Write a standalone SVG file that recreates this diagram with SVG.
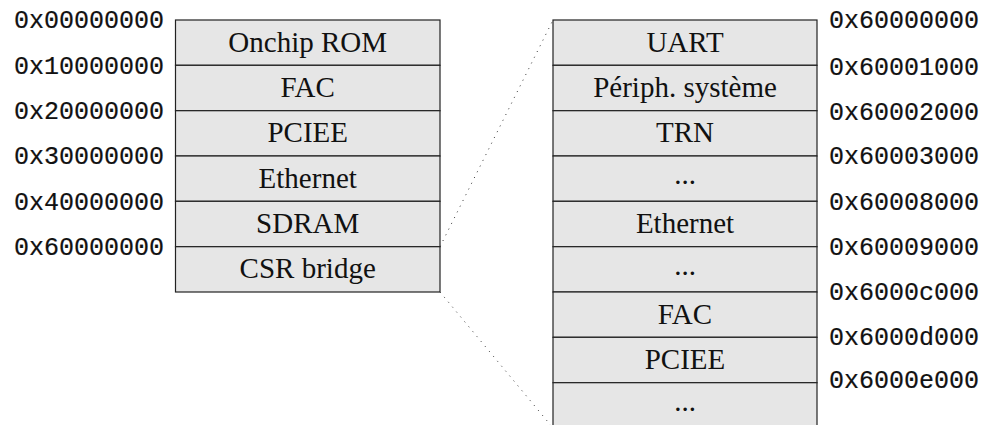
<svg xmlns="http://www.w3.org/2000/svg" width="984" height="425" viewBox="0 0 984 425">
<style>
.cell{fill:#e6e6e6;stroke:#222;stroke-width:1.2}
.lbl{font-family:"Liberation Serif","Times New Roman",serif;font-size:29px;fill:#111;text-anchor:middle}
.addr{font-family:"Liberation Mono","Courier New",monospace;font-size:25px;fill:#111;stroke:#111;stroke-width:0.2}
.l{text-anchor:end}
.dot{fill:none;stroke:#333;stroke-width:1;stroke-dasharray:1 5.4}
</style>
<rect width="984" height="425" fill="#fff"/>
<g id="connectors">
<line class="dot" x1="440" y1="246.7" x2="553" y2="20"/>
<line class="dot" x1="440" y1="292" x2="553" y2="428"/>
</g>
<g id="left-map">
<g id="l-rom"><rect class="cell" x="175.5" y="20" width="264.5" height="45.3"/><text class="lbl" x="307.7" y="51.5">Onchip ROM</text></g>
<g id="l-fac"><rect class="cell" x="175.5" y="65.3" width="264.5" height="45.4"/><text class="lbl" x="307.7" y="97">FAC</text></g>
<g id="l-pciee"><rect class="cell" x="175.5" y="110.7" width="264.5" height="45.3"/><text class="lbl" x="307.7" y="142.3">PCIEE</text></g>
<g id="l-eth"><rect class="cell" x="175.5" y="156" width="264.5" height="45.3"/><text class="lbl" x="307.7" y="187.7">Ethernet</text></g>
<g id="l-sdram"><rect class="cell" x="175.5" y="201.3" width="264.5" height="45.4"/><text class="lbl" x="307.7" y="233">SDRAM</text></g>
<g id="l-csr"><rect class="cell" x="175.5" y="246.7" width="264.5" height="45.3"/><text class="lbl" x="307.7" y="278.3">CSR bridge</text></g>
</g>
<g id="left-addr">
<text class="addr l" x="164" y="28">0x00000000</text>
<text class="addr l" x="164" y="73.5">0x10000000</text>
<text class="addr l" x="164" y="119">0x20000000</text>
<text class="addr l" x="164" y="164">0x30000000</text>
<text class="addr l" x="164" y="209.5">0x40000000</text>
<text class="addr l" x="164" y="255">0x60000000</text>
</g>
<g id="right-map">
<g id="r-uart"><rect class="cell" x="553" y="20" width="264" height="45.3"/><text class="lbl" x="685" y="51.5">UART</text></g>
<g id="r-periph"><rect class="cell" x="553" y="65.3" width="264" height="45.4"/><text class="lbl" x="685" y="97">Périph. système</text></g>
<g id="r-trn"><rect class="cell" x="553" y="110.7" width="264" height="45.3"/><text class="lbl" x="685" y="142.3">TRN</text></g>
<g id="r-gap1"><rect class="cell" x="553" y="156" width="264" height="45.3"/><text class="lbl" x="685" y="184">...</text></g>
<g id="r-eth"><rect class="cell" x="553" y="201.3" width="264" height="45.4"/><text class="lbl" x="685" y="233">Ethernet</text></g>
<g id="r-gap2"><rect class="cell" x="553" y="246.7" width="264" height="45.3"/><text class="lbl" x="685" y="274.7">...</text></g>
<g id="r-fac"><rect class="cell" x="553" y="292" width="264" height="45.3"/><text class="lbl" x="685" y="323.7">FAC</text></g>
<g id="r-pciee"><rect class="cell" x="553" y="337.3" width="264" height="45.4"/><text class="lbl" x="685" y="369">PCIEE</text></g>
<g id="r-gap3"><rect class="cell" x="553" y="382.7" width="264" height="45.3"/><text class="lbl" x="685" y="410.7">...</text></g>
</g>
<g id="right-addr">
<text class="addr" x="829" y="28">0x60000000</text>
<text class="addr" x="829" y="74.5">0x60001000</text>
<text class="addr" x="829" y="119.5">0x60002000</text>
<text class="addr" x="829" y="164">0x60003000</text>
<text class="addr" x="829" y="209.5">0x60008000</text>
<text class="addr" x="829" y="255">0x60009000</text>
<text class="addr" x="829" y="300">0x6000c000</text>
<text class="addr" x="829" y="345">0x6000d000</text>
<text class="addr" x="829" y="388">0x6000e000</text>
</g>
</svg>
